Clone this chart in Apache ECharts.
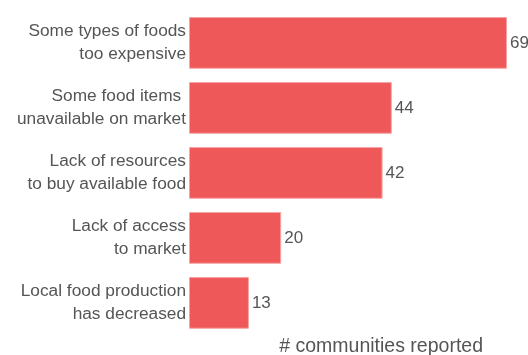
<!DOCTYPE html>
<html><head><meta charset="utf-8">
<script src="https://cdn.jsdelivr.net/npm/echarts@6/dist/echarts.min.js"></script>
<style>html,body{margin:0;padding:0;background:#fff}#c{width:528px;height:355px}</style>
</head><body><div id="c"></div>
<script>
const categories = [
  "Some types of foods\ntoo expensive",
  "Some food items \nunavailable on market",
  "Lack of resources\nto buy available food",
  "Lack of access\nto market",
  "Local food production\nhas decreased"
];
const values = [69, 44, 42, 20, 13];
const axisTitle = "# communities reported";

const font = "'Liberation Sans', Arial, sans-serif";
const chart = echarts.init(document.getElementById('c'), null, {renderer: 'canvas'});
chart.setOption({
  animation: false,
  grid: {left: 189, right: 21, top: 10.4, bottom: 19.6, containLabel: false},
  title: {
    text: axisTitle, right: 40, top: 332,
    textStyle: {fontFamily: font, fontSize: 19.5, fontWeight: 'normal', color: '#555'}
  },
  xAxis: {type: 'value', min: 0, max: 69, show: false},
  yAxis: {
    type: 'category', data: categories, inverse: true,
    axisLine: {show: false}, axisTick: {show: false},
    axisLabel: {margin: 3, fontFamily: font, fontSize: 17.3, color: '#555', lineHeight: 23, align: 'right'}
  },
  series: [{
    type: 'bar', data: values, barCategoryGap: '20.5%',
    itemStyle: {color: '#ef5859', borderColor: '#f6a3a3', borderWidth: 1},
    label: {show: true, position: 'right', distance: 3, fontFamily: font, fontSize: 17, color: '#555'}
  }]
});
</script></body></html>
